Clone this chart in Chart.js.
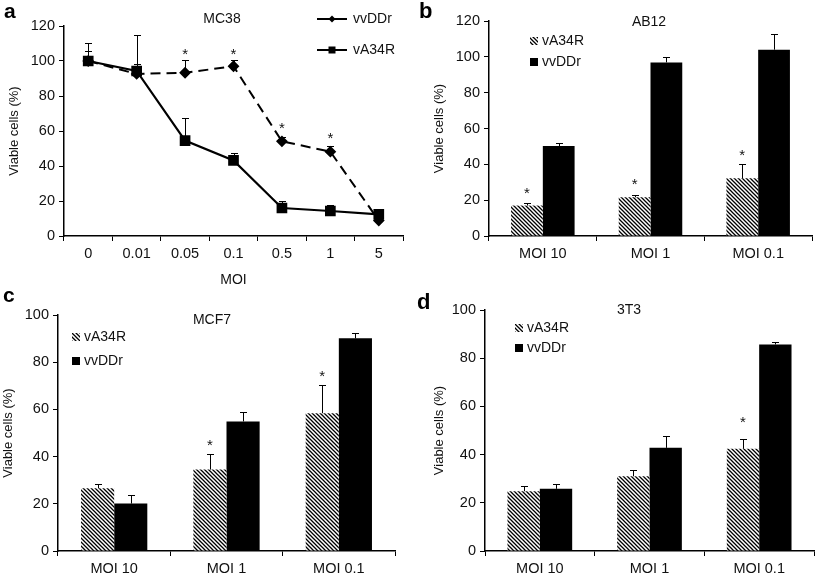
<!DOCTYPE html>
<html>
<head>
<meta charset="utf-8">
<script src="https://cdn.jsdelivr.net/npm/chart.js@4.4.0/dist/chart.umd.min.js"></script>
<style>
  body { margin: 0; background: #fff; width: 825px; height: 575px; position: relative; overflow: hidden; font-family: "Liberation Sans", Arial, sans-serif; }
  canvas { position: absolute; }
  .letter { position: absolute; font-weight: bold; font-size: 21px; line-height: 21px; color: #000; }
</style>
</head>
<body>
<canvas id="chartA" width="412" height="285" style="left:0;top:0"></canvas>
<canvas id="chartB" width="413" height="285" style="left:412px;top:0"></canvas>
<canvas id="chartC" width="412" height="290" style="left:0;top:285px"></canvas>
<canvas id="chartD" width="413" height="290" style="left:412px;top:285px"></canvas>
<div class="letter" style="left:4px;top:0">a</div>
<div class="letter" style="left:419px;top:0;font-size:22px">b</div>
<div class="letter" style="left:3px;top:284px">c</div>
<div class="letter" style="left:417px;top:291px;font-size:22px">d</div>
<script>
// panel a - MC38 dose response
const moiLabels = ['0', '0.01', '0.05', '0.1', '0.5', '1', '5'];
const vvDDrA = [100, 92.6, 93.3, 97, 54.1, 48.2, 8.8];
const vvDDrAErr = [6, 5.5, 7.3, 3.6, 2.7, 3.4, 2];
const vA34RA = [100, 94.3, 54.5, 43.2, 16, 14.3, 12.4];
const vA34RAErr = [10.5, 20.5, 12.9, 4, 3.8, 3.6, 3];
const starsA = [null, null, 105, 105, 63, 57, null];

// bar panels b, c, d
const barLabels = ['MOI 10', 'MOI 1', 'MOI 0.1'];
const vA34RB = [17, 21.6, 32.2];
const vA34RBErr = [1.2, 1.1, 7.8];
const vvDDrB = [50.2, 96.9, 104];
const vvDDrBErr = [1.9, 2.8, 8.6];
const starsB = [25.3, 30.3, 46.5];

const vA34RC = [26.6, 34.5, 58.4];
const vA34RCErr = [1.8, 6.7, 11.9];
const vvDDrC = [20.1, 54.9, 90.1];
const vvDDrCErr = [3.8, 3.8, 2.4];
const starsC = [null, 46, 75];

const vA34RD = [24.8, 31, 42.4];
const vA34RDErr = [2.1, 2.8, 4.1];
const vvDDrD = [25.8, 42.8, 85.7];
const vvDDrDErr = [1.8, 4.8, 1.1];
const starsD = [null, null, 54.3];

const ink = '#111';
const fontName = '"Liberation Sans", Arial, sans-serif';

function makeHatch() {
  let tile = document.createElement('canvas');
  tile.width = 4; tile.height = 4;
  let g = tile.getContext('2d');
  g.fillStyle = '#fff';
  g.fillRect(0, 0, 4, 4);
  g.strokeStyle = '#000';
  g.lineWidth = 1.3;
  g.beginPath();
  g.moveTo(-1, -1); g.lineTo(5, 5);
  g.moveTo(-1, 3); g.lineTo(1, 5);
  g.moveTo(3, -1); g.lineTo(5, 1);
  g.stroke();
  return g.createPattern(tile, 'repeat');
}
const hatch = makeHatch();

// draws error bars, stars, title and legend for a panel
const extras = {
  id: 'extras',
  beforeDatasetsDraw(chart, args, opts) {
    if (opts.errorsFirst) drawErrors(chart, opts);
  },
  afterDatasetsDraw(chart, args, opts) {
    if (!opts.errorsFirst) drawErrors(chart, opts);
    let ctx = chart.ctx, y = chart.scales.y;
    ctx.save();
    ctx.fillStyle = ink;
    ctx.textAlign = 'center';
    ctx.textBaseline = 'middle';
    ctx.font = '15px ' + fontName;
    let meta = chart.getDatasetMeta(opts.starSet);
    opts.stars.forEach((s, i) => {
      if (s == null) return;
      ctx.fillText('*', meta.data[i].x, y.getPixelForValue(s) + 3);
    });
    ctx.font = '14px ' + fontName;
    ctx.fillText(opts.title[0], opts.title[1], opts.title[2]);
    ctx.textAlign = 'left';
    opts.legend.forEach(item => {
      let [txt, kind, lx, ly] = item;
      if (kind == 'hatch' || kind == 'solid') {
        ctx.fillStyle = kind == 'hatch' ? hatch : '#000';
        ctx.fillRect(lx, ly - 4, 8, 8);
        ctx.fillStyle = ink;
        ctx.fillText(txt, lx + 12, ly);
      } else {
        ctx.strokeStyle = '#000';
        ctx.lineWidth = 2;
        ctx.beginPath(); ctx.moveTo(lx, ly); ctx.lineTo(lx + 30, ly); ctx.stroke();
        ctx.fillStyle = '#000';
        ctx.beginPath();
        if (kind == 'diamond') {
          ctx.moveTo(lx + 15, ly - 3.5); ctx.lineTo(lx + 18.5, ly);
          ctx.lineTo(lx + 15, ly + 3.5); ctx.lineTo(lx + 11.5, ly);
        } else {
          ctx.rect(lx + 11.5, ly - 3.5, 7, 7);
        }
        ctx.fill();
        ctx.fillStyle = ink;
        ctx.fillText(txt, lx + 36, ly);
      }
    });
    ctx.restore();
  }
};

function drawErrors(chart, opts) {
  let ctx = chart.ctx, y = chart.scales.y;
  ctx.save();
  ctx.strokeStyle = '#000';
  ctx.lineWidth = 1;
  opts.errors.forEach((errs, d) => {
    let meta = chart.getDatasetMeta(d);
    let vals = chart.data.datasets[d].data;
    errs.forEach((e, i) => {
      let px = Math.round(meta.data[i].x) + 0.5;
      let top = Math.round(y.getPixelForValue(vals[i] + e)) + 0.5;
      ctx.beginPath();
      ctx.moveTo(px, meta.data[i].y);
      ctx.lineTo(px, top);
      ctx.moveTo(px - 3.5, top);
      ctx.lineTo(px + 3.5, top);
      ctx.stroke();
    });
  });
  ctx.restore();
}

function axes(ymax, yw, xh, titlePad, xTitle) {
  let grid = { drawOnChartArea: false, drawTicks: true, tickLength: 5, color: '#000', lineWidth: 1 };
  return {
    x: {
      offset: true,
      grid: Object.assign({ offset: true }, grid),
      border: { color: '#000', width: 1.5 },
      ticks: { color: ink, font: { size: 14.5, family: fontName }, padding: 4, maxRotation: 0 },
      title: { display: !!xTitle, text: xTitle || '', color: ink, font: { size: 14, family: fontName }, padding: { top: 6, bottom: -4 } },
      afterFit: s => { s.height = xh; }
    },
    y: {
      min: 0, max: ymax,
      grid: grid,
      border: { color: '#000', width: 1.5 },
      ticks: { stepSize: 20, color: ink, font: { size: 14.5, family: fontName }, padding: 4 },
      title: { display: true, text: 'Viable cells (%)', color: ink, font: { size: 13, family: fontName }, padding: { top: titlePad, bottom: 0 } },
      afterFit: s => { s.width = yw; }
    }
  };
}

new Chart(document.getElementById('chartA'), {
  type: 'line',
  data: {
    labels: moiLabels,
    datasets: [
      { label: 'vvDDr', data: vvDDrA, borderColor: '#000', borderWidth: 2, borderDash: [10, 6],
        pointStyle: 'rectRot', pointRadius: 4.5, pointBackgroundColor: '#000', pointBorderColor: '#000', tension: 0 },
      { label: 'vA34R', data: vA34RA, borderColor: '#000', borderWidth: 2.2,
        pointStyle: 'rect', pointRadius: 6, pointBackgroundColor: '#000', pointBorderColor: '#000', tension: 0 }
    ]
  },
  options: {
    responsive: false, animation: false,
    layout: { padding: { top: 26, right: 9, left: 0, bottom: 0 } },
    plugins: {
      legend: { display: false }, tooltip: { enabled: false },
      extras: {
        errorsFirst: true,
        errors: [vvDDrAErr, vA34RAErr],
        stars: starsA, starSet: 0,
        title: ['MC38', 222, 19],
        legend: [['vvDDr', 'diamond', 317, 19], ['vA34R', 'square', 317, 50]]
      }
    },
    scales: axes(120, 64, 49, 7, 'MOI')
  },
  plugins: [extras]
});

function barChart(id, a, b, errA, errB, stars, ymax, pad, yw, xh, titlePad, title, legend) {
  new Chart(document.getElementById(id), {
    type: 'bar',
    data: {
      labels: barLabels,
      datasets: [
        { label: 'vA34R', data: a, backgroundColor: hatch, borderWidth: 0, categoryPercentage: 0.59, barPercentage: 1 },
        { label: 'vvDDr', data: b, backgroundColor: '#000', borderWidth: 0, categoryPercentage: 0.59, barPercentage: 1 }
      ]
    },
    options: {
      responsive: false, animation: false,
      layout: { padding: pad },
      plugins: {
        legend: { display: false }, tooltip: { enabled: false },
        extras: { errorsFirst: false, errors: [errA, errB], stars: stars, starSet: 0, title: title, legend: legend }
      },
      scales: axes(ymax, yw, xh, titlePad)
    },
    plugins: [extras]
  });
}

barChart('chartB', vA34RB, vvDDrB, vA34RBErr, vvDDrBErr, starsB, 120,
  { top: 21, right: 13, left: 0, bottom: 0 }, 77, 49, 20, ['AB12', 237, 22],
  [['vA34R', 'hatch', 118, 41], ['vvDDr', 'solid', 118, 62]]);
barChart('chartC', vA34RC, vvDDrC, vA34RCErr, vvDDrCErr, starsC, 100,
  { top: 30, right: 17, left: 0, bottom: 0 }, 58, 24, 1, ['MCF7', 212, 35],
  [['vA34R', 'hatch', 72, 52], ['vvDDr', 'solid', 72, 76]]);
barChart('chartD', vA34RD, vvDDrD, vA34RDErr, vvDDrDErr, starsD, 100,
  { top: 25, right: 11, left: 0, bottom: 0 }, 73, 24, 20, ['3T3', 217, 25],
  [['vA34R', 'hatch', 103, 43], ['vvDDr', 'solid', 103, 63]]);
</script>
</body>
</html>
